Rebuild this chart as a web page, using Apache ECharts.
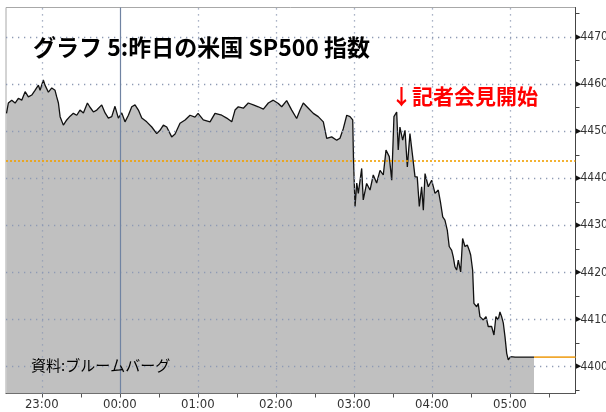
<!DOCTYPE html>
<html>
<head>
<meta charset="utf-8">
<script src="https://cdn.jsdelivr.net/npm/echarts@6/dist/echarts.min.js"></script>
<style>
html,body{margin:0;padding:0;background:#fff;}
#chart{width:606px;height:412px;}
</style>
</head>
<body>
<div id="chart"></div>
<script>
// ---- data (x = minutes after 22:00, y = index level) ----
const minutesFrom2200 = [32.9,34.3,36.9,39.5,42.0,44.6,47.2,49.7,52.3,54.8,57.4,58.7,61.2,62.5,65.1,67.7,70.2,71.5,72.8,74.1,
76.6,79.2,81.8,84.3,86.9,89.4,92.0,95.1,97.1,99.7,102.3,106.1,108.7,111.2,113.8,116.3,118.9,121.5,124.0,126.6,
129.2,131.7,134.3,136.9,140.7,144.6,148.4,150.9,153.5,156.1,159.9,162.5,166.3,170.2,174.0,177.8,180.2,184.2,189.4,193.2,
198.4,202.2,206.1,208.6,211.1,215.0,218.8,222.7,226.5,230.4,234.2,238.0,241.9,244.5,248.3,252.2,256.0,258.6,261.1,265.0,
268.8,272.6,276.5,279.1,282.9,286.8,289.3,291.9,294.5,297.0,299.1,299.7,300.9,302.2,303.4,306.0,307.2,309.8,312.4,314.9,
317.5,320.1,322.6,324.7,327.2,329.1,330.8,332.9,334.1,335.4,337.5,339.3,341.1,343.1,345.2,347.0,348.7,350.3,352.1,353.4,
354.7,357.2,359.8,362.4,364.9,366.7,368.3,370.0,371.8,373.3,375.2,376.4,377.7,379.0,380.3,382.1,383.6,385.4,387.2,388.7,
389.8,391.3,392.3,394.4,395.6,396.9,399.5,401.6,403.3,405.9,407.7,409.2,411.0,412.3,413.6,414.9,416.2,417.5,418.7,420.5,
423.9,438.5];
const prices = [4453.8,4456.0,4456.6,4456.0,4457.0,4456.6,4458.4,4457.3,4457.7,4458.7,4459.8,4458.7,4460.9,4459.8,4458.3,4459.2,4458.7,4457.3,4456.0,4453.1,
4451.3,4452.4,4453.2,4453.8,4453.4,4454.5,4453.9,4456.0,4455.1,4454.1,4454.5,4455.6,4453.9,4452.8,4453.1,4455.3,4452.8,4453.9,4452.0,4453.4,
4455.2,4455.6,4454.5,4452.8,4452.0,4450.9,4449.5,4450.2,4451.3,4450.9,4448.8,4449.4,4451.7,4452.4,4453.4,4453.0,4453.8,4452.4,4452.0,4453.8,
4453.4,4452.8,4452.0,4454.5,4455.2,4454.9,4456.0,4455.6,4455.2,4454.7,4456.0,4456.6,4455.9,4455.2,4456.5,4454.5,4452.7,4454.5,4456.0,4454.9,
4453.8,4453.1,4452.0,4448.5,4448.8,4448.1,4448.5,4450.6,4453.4,4453.1,4452.4,4443.9,4434.0,4439.0,4436.8,4442.1,4435.4,4438.9,4437.5,4440.7,
4439.0,4441.7,4440.7,4446.0,4444.6,4439.6,4453.1,4454.1,4446.0,4450.9,4448.1,4450.2,4442.4,4449.5,4444.6,4440.3,4440.3,4434.0,4438.2,4433.2,
4441.0,4438.2,4439.6,4436.8,4437.5,4434.7,4431.8,4431.1,4429.0,4425.5,4424.7,4423.3,4421.2,4420.5,4422.6,4420.1,4427.2,4425.5,4425.8,4424.7,
4423.7,4420.5,4413.4,4412.7,4413.4,4410.6,4409.9,4410.6,4408.5,4408.5,4406.7,4410.6,4409.9,4411.6,4410.6,4409.2,4406.3,4402.8,4401.4,4402.1,
4402.0,4402.0];
const hourLabels = ['23:00','00:00','01:00','02:00','03:00','04:00','05:00'];
const yTickLabels = [4400,4410,4420,4430,4440,4450,4460,4470];
const yMinorTicks = [4395,4405,4415,4425,4435,4445,4455,4465,4475];
const prevClose = 4443.7;
const lastPrice = 4402.0;
const titleText = 'グラフ 5:昨日の米国 SP500 指数';
const noteText = '↓記者会見開始';
const sourceText = '資料:ブルームバーグ';

function toMin(hhmm){ const p = hhmm.split(':').map(Number); return ((p[0]-22+24)%24)*60 + p[1]; }
function fmt(m){ const h = (22 + Math.floor(m/60)) % 24; const mm = Math.round(m % 60); return String(h).padStart(2,'0') + ':' + String(mm).padStart(2,'0'); }

const hourMins = hourLabels.map(toMin);
const halfHourTicks = [];
for (let m = hourMins[0]; m <= 460; m += 30) halfHourTicks.push(m);
const seriesData = minutesFrom2200.map((m,i)=>[m, prices[i]]);
const xMin = 32.5, xMax = 470.4;

const dot = {color:'#8e9ab4', width:1.3, type:[1.3,4.7]};
const gridMarks = [];
yTickLabels.forEach(v => gridMarks.push({yAxis:v, lineStyle:dot}));
hourMins.forEach(m => {
  if (m === 120) gridMarks.push({xAxis:m, lineStyle:{color:'#7083a2', width:1.2, type:'solid'}});
  else gridMarks.push({xAxis:m, lineStyle:dot});
});
gridMarks.push({yAxis:prevClose, lineStyle:{color:'#f0a000', width:1.6, type:[2,2]}});

const chart = echarts.init(document.getElementById('chart'), null, {renderer:'canvas'});
const narrow = "'Liberation Sans Narrow','DejaVu Sans Condensed',sans-serif";
chart.setOption({
  animation:false,
  backgroundColor:'#fff',
  grid:{left:6, right:30.5, top:7.5, bottom:18.5, show:true, borderColor:'#a8a8a8', borderWidth:1, backgroundColor:'#fff',
        outerBoundsMode:'none', containLabel:false},
  xAxis:{
    type:'value', min:xMin, max:xMax,
    axisLine:{show:true, lineStyle:{color:'#555', width:1}},
    axisTick:{show:true, inside:false, length:4, lineStyle:{color:'#555'}, customValues:halfHourTicks},
    axisLabel:{show:true, customValues:hourMins, formatter:v=>fmt(v), color:'#333', fontSize:13, fontFamily:narrow, margin:5},
    splitLine:{show:false}
  },
  yAxis:{
    type:'value', position:'right', min:4394.26, max:4476.3,
    axisLine:{show:true, lineStyle:{color:'#444', width:1}},
    axisTick:{show:true, inside:false, length:4, lineStyle:{color:'#444'}, customValues:yMinorTicks},
    axisLabel:{show:true, customValues:yTickLabels, margin:0,
      formatter:v=>'{t|▶}{v|'+v+'}',
      rich:{t:{fontSize:7, color:'#111', padding:[0,0,0,0]}, v:{fontSize:12, color:'#333', fontFamily:narrow}}},
    splitLine:{show:false}
  },
  series:[
    {type:'line', data:seriesData, showSymbol:false, z:1,
     lineStyle:{width:0, opacity:0}, areaStyle:{color:'#c0c0c0', opacity:1, origin:'start'},
     markLine:{silent:true, symbol:['none','none'], label:{show:false}, animation:false, data:gridMarks}},
    {type:'line', data:seriesData, showSymbol:false, z:3,
     lineStyle:{color:'#111', width:1.3}},
    {type:'line', data:[[minutesFrom2200[minutesFrom2200.length-1], lastPrice],[xMax, lastPrice]], showSymbol:false, z:3,
     lineStyle:{color:'#f0a830', width:1.6}}
  ],
  graphic:[
    {type:'text', left:33, top:36, z:10, style:{text:titleText, font:"bold 23px 'Noto Sans CJK JP'", fill:'#000'}},
    {type:'text', left:391, top:86, z:10, style:{text:noteText, font:"bold 21px 'Noto Sans CJK JP'", fill:'#ff0000'}},
    {type:'text', left:31, top:358, z:10, style:{text:sourceText, font:"15px 'Noto Sans CJK JP'", fill:'#000'}}
  ]
});
</script>
</body>
</html>
